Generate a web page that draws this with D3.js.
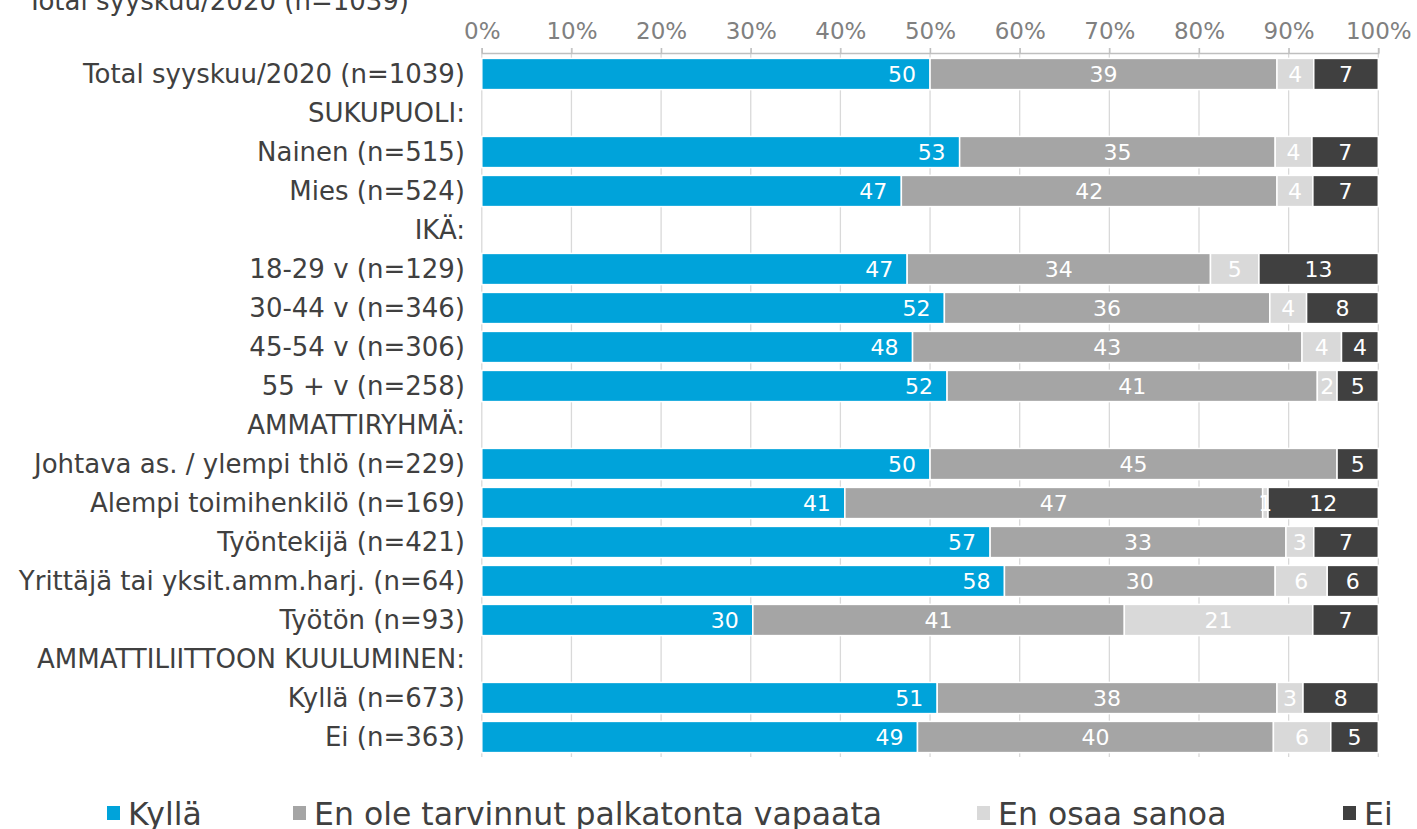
<!DOCTYPE html>
<html>
<head>
<meta charset="utf-8">
<script src="https://cdn.jsdelivr.net/npm/d3@7"></script>
<style>
  body { margin: 0; background: #fff; overflow: hidden; }
  svg { font-family: "DejaVu Sans", Verdana, sans-serif; }
</style>
</head>
<body>
<div id="chart"></div>
<script>
// Ryhmät (rivit ylhäältä alas), väliotsikoilla ei ole palkkeja
const categories = [
    'Total syyskuu/2020 (n=1039)',
    'SUKUPUOLI:',
    'Nainen (n=515)',
    'Mies (n=524)',
    'IKÄ:',
    '18-29 v (n=129)',
    '30-44 v (n=346)',
    '45-54 v (n=306)',
    '55 + v (n=258)',
    'AMMATTIRYHMÄ:',
    'Johtava as. / ylempi thlö (n=229)',
    'Alempi toimihenkilö (n=169)',
    'Työntekijä (n=421)',
    'Yrittäjä tai yksit.amm.harj. (n=64)',
    'Työtön (n=93)',
    'AMMATTILIITTOON KUULUMINEN:',
    'Kyllä (n=673)',
    'Ei (n=363)'
];

const seriesNames = ['Kyllä', 'En ole tarvinnut palkatonta vapaata', 'En osaa sanoa', 'Ei'];

// prosentit, null = väliotsikko
const kylla   = [50.0, null, 53.3, 46.8, null, 47.4, 51.6, 48.0, 51.9, null, 50.0, 40.5, 56.7, 58.3, 30.2, null, 50.8, 48.6];
const eiTarv  = [38.7, null, 35.2, 41.9, null, 33.8, 36.3, 43.4, 41.3, null, 45.4, 46.6, 33.0, 30.2, 41.4, null, 37.9, 39.7];
const eos     = [4.1,  null, 4.1,  4.0,  null, 5.4,  4.1,  4.4,  2.2,  null, 0,    0.6,  3.1,  5.8,  21.0, null, 2.9,  6.4];
const ei      = [7.2,  null, 7.4,  7.3,  null, 13.3, 8.0,  4.1,  4.6,  null, 4.6,  12.3, 7.2,  5.7,  7.3,  null, 8.4,  5.3];

const tickValues = [0, 10, 20, 30, 40, 50, 60, 70, 80, 90, 100];
const colors = ['#00a3da', '#a5a5a5', '#d9d9d9', '#404040'];

const width = 1417, height = 829;

const svg = d3.select('#chart').append('svg')
    .attr('width', width)
    .attr('height', height);

// taulukko d3.stackia varten
const rows = categories.map((c, i) => ({
    cat: c,
    vals: [kylla[i], eiTarv[i], eos[i], ei[i]]
}));
const barRows = rows.filter(r => r.vals[0] !== null);
barRows.forEach(r => {
    const tot = d3.sum(r.vals);
    seriesNames.forEach((k, j) => { r[k] = r.vals[j] / tot * 100; });
});

const x = d3.scaleLinear().domain([0, 100]).range([481.8, 1378.3]);
const y = d3.scaleBand()
    .domain(categories)
    .range([54.5, 756.5])
    .paddingInner(0.2)
    .paddingOuter(0.1);

// otsikko (leikkautuu yläreunasta)
svg.append('text')
    .attr('x', 27)
    .attr('y', 10)
    .attr('font-size', 26)
    .attr('fill', '#404040')
    .text('Total syyskuu/2020 (n=1039)');

// pystyviivat
svg.append('g')
    .selectAll('line')
    .data(tickValues)
    .enter().append('line')
    .attr('x1', d => x(d)).attr('x2', d => x(d))
    .attr('y1', 48).attr('y2', 757)
    .attr('stroke', '#d9d9d9')
    .attr('stroke-width', 1.3);

// x-akseli ylhäällä
const xAxis = svg.append('g')
    .attr('transform', 'translate(0,53)')
    .call(d3.axisTop(x).tickValues(tickValues).tickFormat(d => d + '%').tickSize(5).tickPadding(9));
xAxis.select('.domain').attr('stroke', '#bfbfbf').attr('stroke-width', 1.3);
xAxis.selectAll('.tick line').attr('stroke', '#bfbfbf').attr('stroke-width', 1.3);
xAxis.selectAll('.tick text')
    .attr('font-size', 23)
    .attr('font-family', '"DejaVu Sans", Verdana, sans-serif')
    .attr('fill', '#808080');

// palkit
const stacked = d3.stack().keys(seriesNames)(barRows);

const layers = svg.append('g').selectAll('g')
    .data(stacked)
    .enter().append('g')
    .attr('fill', (d, i) => colors[i]);

layers.selectAll('rect')
    .data(d => d)
    .enter().append('rect')
    .attr('x', d => x(d[0]))
    .attr('y', d => y(d.data.cat))
    .attr('width', d => x(d[1]) - x(d[0]))
    .attr('height', y.bandwidth())
    .attr('stroke', '#fff')
    .attr('stroke-width', 1.5);

// arvot palkkien sisällä
stacked.forEach((layer, i) => {
    svg.append('g').selectAll('text')
        .data(layer.filter(d => d[1] - d[0] >= 0.5))
        .enter().append('text')
        .attr('x', d => i === 0 ? x(d[1]) - 14 : (x(d[0]) + x(d[1])) / 2)
        .attr('y', d => y(d.data.cat) + y.bandwidth() / 2 + 8)
        .attr('text-anchor', i === 0 ? 'end' : 'middle')
        .attr('font-size', 22)
        .attr('fill', '#fff')
        .text(d => Math.round(d.data.vals[i]));
});

// ryhmien nimet vasemmalla
svg.append('g').selectAll('text')
    .data(categories)
    .enter().append('text')
    .attr('x', 465)
    .attr('y', d => y(d) + y.bandwidth() / 2 + 9)
    .attr('text-anchor', 'end')
    .attr('font-size', 26)
    .attr('fill', '#404040')
    .text(d => d);

// selite alhaalla
const legendX = [107, 293, 977, 1343];
const legend = svg.append('g').selectAll('g')
    .data(seriesNames)
    .enter().append('g')
    .attr('transform', (d, i) => `translate(${legendX[i]},806)`);
legend.append('rect')
    .attr('width', 13).attr('height', 14)
    .attr('fill', (d, i) => colors[i]);
legend.append('text')
    .attr('x', 21)
    .attr('y', 19)
    .attr('font-size', 31.5)
    .attr('fill', '#404040')
    .text(d => d);
</script>
</body>
</html>
